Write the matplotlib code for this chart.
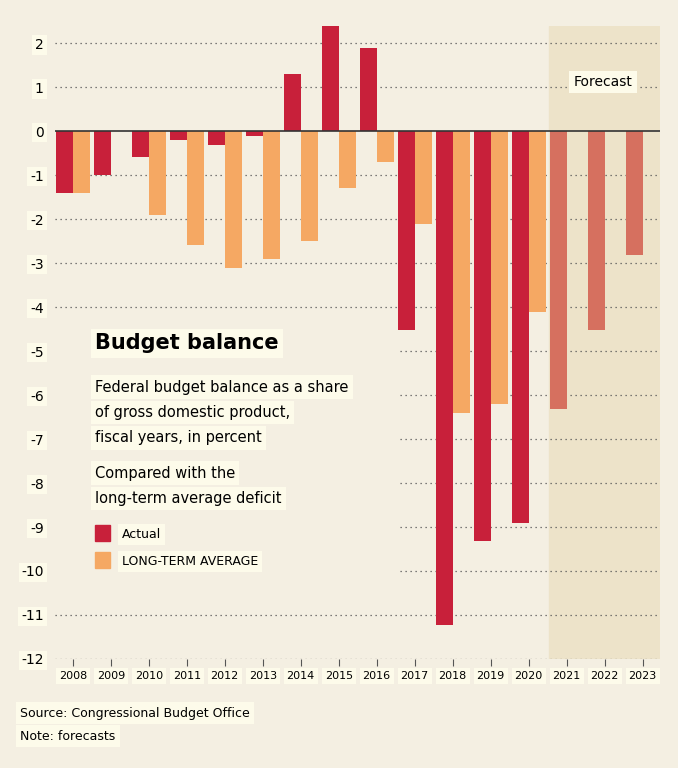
import matplotlib
matplotlib.use("Agg")
import matplotlib.pyplot as plt
import numpy as np

years = [str(y) for y in range(2008, 2024)]
actual = [-1.41, -1.0, -0.59, -0.2, -0.32, -0.11, 1.30, 2.39, 1.89, -4.52, -11.23, -9.32, -8.91, -6.32, -4.52, -2.82]
longterm = [-1.41, None, -1.91, -2.59, -3.11, -2.91, -2.5, -1.3, -0.7, -2.11, -6.41, -6.2, -4.11, None, None, None]
n_forecast = 3
yticks = list(range(2, -13, -1))

BG = "#f4efe2"; SHADE = "#ede3c9"; RED = "#c8203a"; ORANGE = "#f5a863"; FRED = "#d6705f"
BOX = "#fdfbea"

fig = plt.figure(figsize=(6.78, 7.68), dpi=100, facecolor=BG)
ax = fig.add_axes([0.081, 0.142, 0.892, 0.824], facecolor=BG)
x = np.arange(len(years))
w = 0.45
nf = len(years) - n_forecast
ax.axvspan(nf - 0.47, 15.45, color=SHADE, zorder=0)
for yv in yticks:
    if yv != 0:
        ax.axhline(yv, color="#555", lw=0.9, ls=(0, (1, 3)), zorder=1)
# blank area behind the legend text
ax.add_patch(plt.Rectangle((-0.47, -10.6), 9.0, 6.2, color=BG, zorder=2, lw=0))
cols = [RED if i < nf else FRED for i in x]
ax.bar(x - w / 2, actual, w, color=cols, zorder=3)
lt_x = [i + w / 2 for i, v in enumerate(longterm) if v is not None]
lt_v = [v for v in longterm if v is not None]
ax.bar(lt_x, lt_v, w, color=ORANGE, zorder=3)
ax.axhline(0, color="#333", lw=1.2, zorder=4)
ax.set_xlim(-0.47, 15.45)
ax.set_ylim(-12, 2.39)
for s in ax.spines.values():
    s.set_visible(False)
ax.set_yticks(yticks)
ax.set_yticklabels([str(v) for v in yticks])
ax.tick_params(axis="y", length=0, pad=8, labelsize=10)
ax.set_xticks(x)
ax.set_xticklabels(years, fontsize=8)
ax.tick_params(axis="x", length=5, color="#555", labelsize=8)
for t in ax.get_yticklabels() + ax.get_xticklabels():
    t.set_bbox(dict(facecolor=BOX, edgecolor="none", pad=2))

bb = dict(facecolor=BOX, edgecolor="none", pad=3)
ax.text(0.955, 0.905, "Forecast", transform=ax.transAxes, ha="right", fontsize=10, bbox=bb, zorder=6)
fig.text(0.14, 0.545, "Budget balance", fontsize=15, fontweight="bold", bbox=bb)
fig.text(0.14, 0.490, "Federal budget balance as a share", fontsize=10.5, bbox=bb)
fig.text(0.14, 0.457, "of gross domestic product,", fontsize=10.5, bbox=bb)
fig.text(0.14, 0.424, "fiscal years, in percent", fontsize=10.5, bbox=bb)
fig.text(0.14, 0.378, "Compared with the", fontsize=10.5, bbox=bb)
fig.text(0.14, 0.345, "long-term average deficit", fontsize=10.5, bbox=bb)
fig.patches.append(plt.Rectangle((0.14, 0.296), 0.022, 0.02, color=RED, transform=fig.transFigure))
fig.text(0.18, 0.299, "Actual", fontsize=9, bbox=bb)
fig.patches.append(plt.Rectangle((0.14, 0.261), 0.022, 0.02, color=ORANGE, transform=fig.transFigure))
fig.text(0.18, 0.264, "LONG-TERM AVERAGE", fontsize=9, bbox=bb)
fig.text(0.03, 0.067, "Source: Congressional Budget Office", fontsize=9, bbox=bb)
fig.text(0.03, 0.037, "Note: forecasts", fontsize=9, bbox=bb)
fig.savefig("out.png", dpi=100, facecolor=BG)
